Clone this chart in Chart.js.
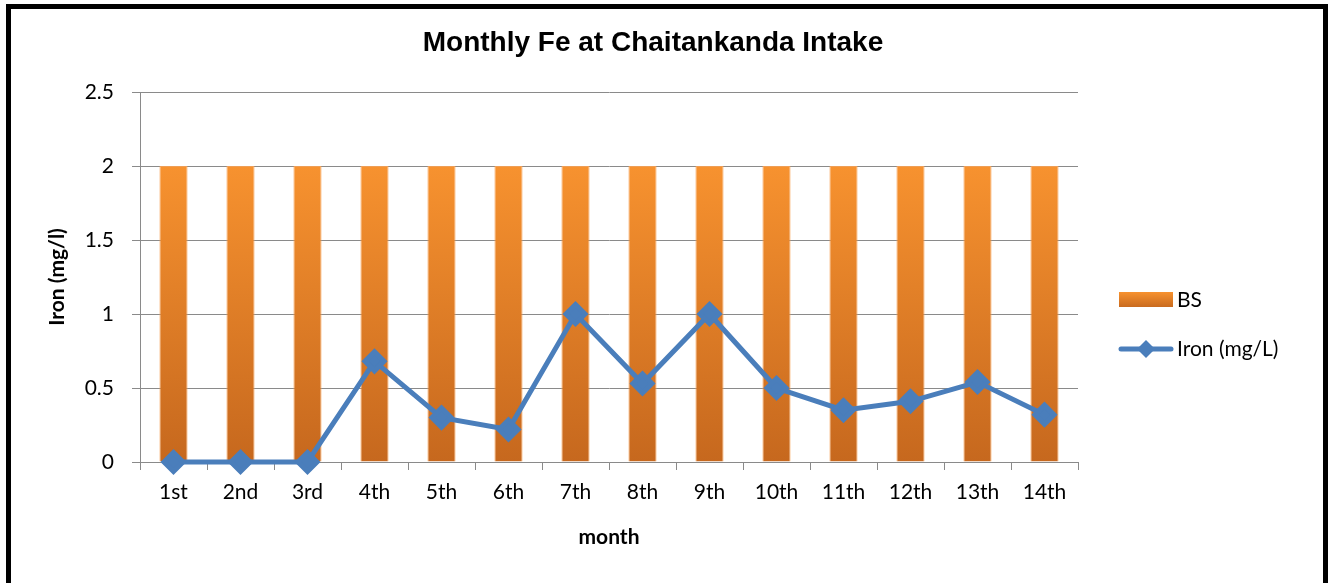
<!DOCTYPE html>
<html>
<head>
<meta charset="utf-8">
<script src="https://cdn.jsdelivr.net/npm/chart.js@4.4.1/dist/chart.umd.min.js"></script>
<style>
  html, body { margin:0; padding:0; background:#fff; overflow:hidden; }
  #wrap { position:relative; width:1335px; height:583px; }
  #c { position:absolute; left:0; top:0; }
  #frame { position:absolute; left:6px; top:4px; width:1322px; height:700px; box-sizing:border-box; border:5px solid #000; pointer-events:none; }
</style>
</head>
<body>
<div id="wrap">
  <canvas id="c" width="1335" height="583"></canvas>
  <div id="frame"></div>
</div>
<script>
// chart data
const chartTitle = "Monthly Fe at Chaitankanda Intake";
const months = ["1st","2nd","3rd","4th","5th","6th","7th","8th","9th","10th","11th","12th","13th","14th"];
const bsValues = [2,2,2,2,2,2,2,2,2,2,2,2,2,2];
const ironValues = [0,0,0,0.68,0.30,0.22,1.0,0.53,1.0,0.50,0.35,0.41,0.54,0.32];
const yTicks = [0,0.5,1,1.5,2,2.5];

const BLUE = "#4A7EBB";
const GRID = "#8a8a8a";
const TICK_FONT = { family:"Lato", size:21 };

function barGradient(ctx){
  const chart = ctx.chart, y = chart.scales.y;
  if (!chart.chartArea || !y) return "#E8822A";
  const g = chart.ctx.createLinearGradient(0, y.getPixelForValue(2), 0, y.getPixelForValue(0));
  g.addColorStop(0, "#F7922F");
  g.addColorStop(1, "#C6681E");
  return g;
}

// title centred on the whole frame + legend on the right, like the Excel one
const sideLegend = {
  id: "sideLegend",
  afterDraw(chart){
    const { ctx, chartArea } = chart;
    ctx.save();
    ctx.fillStyle = "#000";
    ctx.font = "bold 28px 'Liberation Sans'";
    ctx.textAlign = "center"; ctx.textBaseline = "middle";
    ctx.fillText(chartTitle, 653, 43);

    const x0 = chartArea.right + 41, w = 54;
    const y1 = 300, y2 = 349;
    const g = ctx.createLinearGradient(0, y1-8, 0, y1+8);
    g.addColorStop(0, "#F7922F"); g.addColorStop(1, "#C6681E");
    ctx.fillStyle = g;
    ctx.fillRect(x0, y1-8, w, 15);
    ctx.strokeStyle = BLUE; ctx.lineWidth = 5; ctx.lineCap = "round";
    ctx.beginPath(); ctx.moveTo(x0+2, y2); ctx.lineTo(x0+w-2, y2); ctx.stroke();
    ctx.fillStyle = BLUE;
    const cx = x0 + w/2, r = 9;
    ctx.beginPath(); ctx.moveTo(cx, y2-r); ctx.lineTo(cx+r, y2); ctx.lineTo(cx, y2+r); ctx.lineTo(cx-r, y2); ctx.closePath(); ctx.fill();
    ctx.fillStyle = "#000";
    ctx.font = "21px Lato";
    ctx.textAlign = "left";
    ctx.fillText("BS", x0 + w + 4, y1);
    ctx.fillText("Iron (mg/L)", x0 + w + 4, y2);
    ctx.restore();
  }
};

new Chart(document.getElementById("c"), {
  data: {
    labels: months,
    datasets: [
      { type:"line", label:"Iron (mg/L)", data: ironValues, order:0,
        borderColor: BLUE, backgroundColor: BLUE, borderWidth: 5,
        pointStyle:"rectRot", pointRadius: 9.5, pointHoverRadius: 9.5,
        pointBackgroundColor: BLUE, pointBorderColor: BLUE, tension:0, clip:false },
      { type:"bar", label:"BS", data: bsValues, order:1,
        backgroundColor: barGradient, borderColor:"rgba(248,160,80,0.9)", borderWidth:1,
        categoryPercentage:1, barPercentage:0.42 }
    ]
  },
  options: {
    responsive:false,
    animation:false,
    devicePixelRatio:1,
    layout: { padding: { left:0, right:257, top:92, bottom:0 } },
    plugins: {
      legend: { display:false },
      tooltip: { enabled:false },
      title: { display:false }
    },
    scales: {
      x: {
        offset:true,
        grid: { display:true, offset:true, drawOnChartArea:false, drawTicks:true, tickLength:8, color:GRID },
        border: { display:true, color:GRID, width:1 },
        ticks: { color:"#000", font:TICK_FONT, padding:10, maxRotation:0, autoSkip:false },
        title: { display:true, text:"month", color:"#000", font:{ family:"Lato", size:21, weight:"bold" }, padding:{ top:0, bottom:33 } },
        afterFit(s){ s.height = 121; }
      },
      y: {
        min:0, max:2.5,
        afterBuildTicks(s){ s.ticks = yTicks.map(v => ({ value:v })); },
        grid: { color:GRID, drawTicks:true, tickLength:8 },
        border: { display:true, color:GRID, width:1 },
        ticks: { color:"#000", font:TICK_FONT, padding:18, callback: v => String(v) },
        title: { display:true, text:"Iron (mg/l)", color:"#000", font:{ family:"Lato", size:21, weight:"bold" }, padding:{ top:45, bottom:0 } },
        afterFit(s){ s.width = 140; }
      }
    }
  },
  plugins:[sideLegend]
});
</script>
</body>
</html>
